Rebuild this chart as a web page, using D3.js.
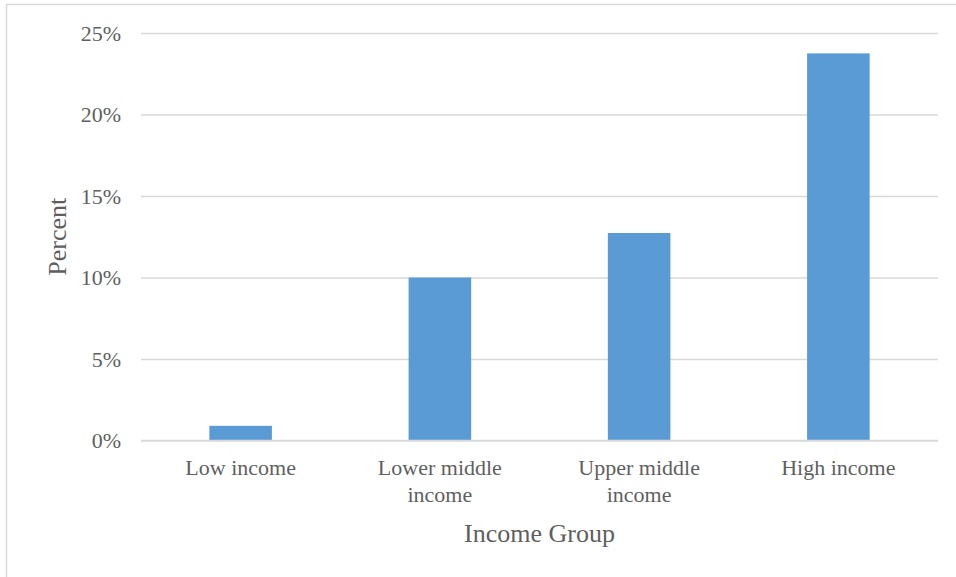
<!DOCTYPE html>
<html>
<head>
<meta charset="utf-8">
<script src="https://cdn.jsdelivr.net/npm/d3@7"></script>
<style>
  body { margin: 0; background: #fff; }
  svg text { font-family: "Liberation Serif", "DejaVu Serif", serif; fill: #5f5f5f; }
</style>
</head>
<body>
<svg id="chart" width="956" height="577"></svg>
<script>
// data
const categories = [["Low income"], ["Lower middle", "income"], ["Upper middle", "income"], ["High income"]];
const values = [0.009, 0.100, 0.1273, 0.2375];
const yTicks = [0, 0.05, 0.10, 0.15, 0.20, 0.25];

const svg = d3.select("#chart");

// outer chart border
svg.append("rect")
    .attr("x", 6.5).attr("y", 4.5)
    .attr("width", 980).attr("height", 600)
    .attr("fill", "none")
    .attr("stroke", "#d9d9d9")
    .attr("stroke-width", 1.5);

const plotLeft = 141, plotRight = 938, plotTop = 33, plotBottom = 440.5;

const x = d3.scaleBand()
    .domain(d3.range(categories.length))
    .range([plotLeft, plotRight])
    .paddingInner(0.686)
    .paddingOuter(0.343);

const y = d3.scaleLinear().domain([0, 0.25]).range([plotBottom, plotTop]);

// gridlines + y labels via axis
const yAxis = d3.axisLeft(y)
    .tickValues(yTicks)
    .tickSize(-(plotRight - plotLeft))
    .tickPadding(20)
    .tickFormat(d3.format(".0%"));

const gy = svg.append("g")
    .attr("transform", `translate(${plotLeft},0)`)
    .call(yAxis);
gy.select(".domain").remove();
gy.selectAll(".tick line").attr("stroke", "#d9d9d9").attr("stroke-width", 1.5);
gy.selectAll(".tick text")
    .attr("fill", "#5f5f5f")
    .style("font-size", "22px");

// bars
svg.append("g")
    .selectAll("rect")
    .data(values)
    .join("rect")
    .attr("x", (d, i) => x(i))
    .attr("y", d => y(d))
    .attr("width", x.bandwidth())
    .attr("height", d => y(0) - y(d))
    .attr("fill", "#5b9bd5");

// x axis line
svg.append("line")
    .attr("x1", plotLeft).attr("x2", plotRight)
    .attr("y1", plotBottom).attr("y2", plotBottom)
    .attr("stroke", "#d9d9d9").attr("stroke-width", 1.5);

// category labels
const cat = svg.append("g")
    .selectAll("text")
    .data(categories)
    .join("text")
    .attr("x", (d, i) => x(i) + x.bandwidth() / 2)
    .attr("y", 475)
    .attr("text-anchor", "middle")
    .style("font-size", "22px");
cat.selectAll("tspan")
    .data(d => d)
    .join("tspan")
    .attr("x", function () { return this.parentNode.getAttribute("x"); })
    .attr("dy", (d, i) => i === 0 ? 0 : 27)
    .text(d => d);

// axis titles
svg.append("text")
    .attr("x", (plotLeft + plotRight) / 2)
    .attr("y", 542)
    .attr("text-anchor", "middle")
    .style("font-size", "26px")
    .text("Income Group");

svg.append("text")
    .attr("transform", `translate(66,${(plotTop + plotBottom) / 2}) rotate(-90)`)
    .attr("text-anchor", "middle")
    .style("font-size", "26px")
    .text("Percent");
</script>
</body>
</html>
